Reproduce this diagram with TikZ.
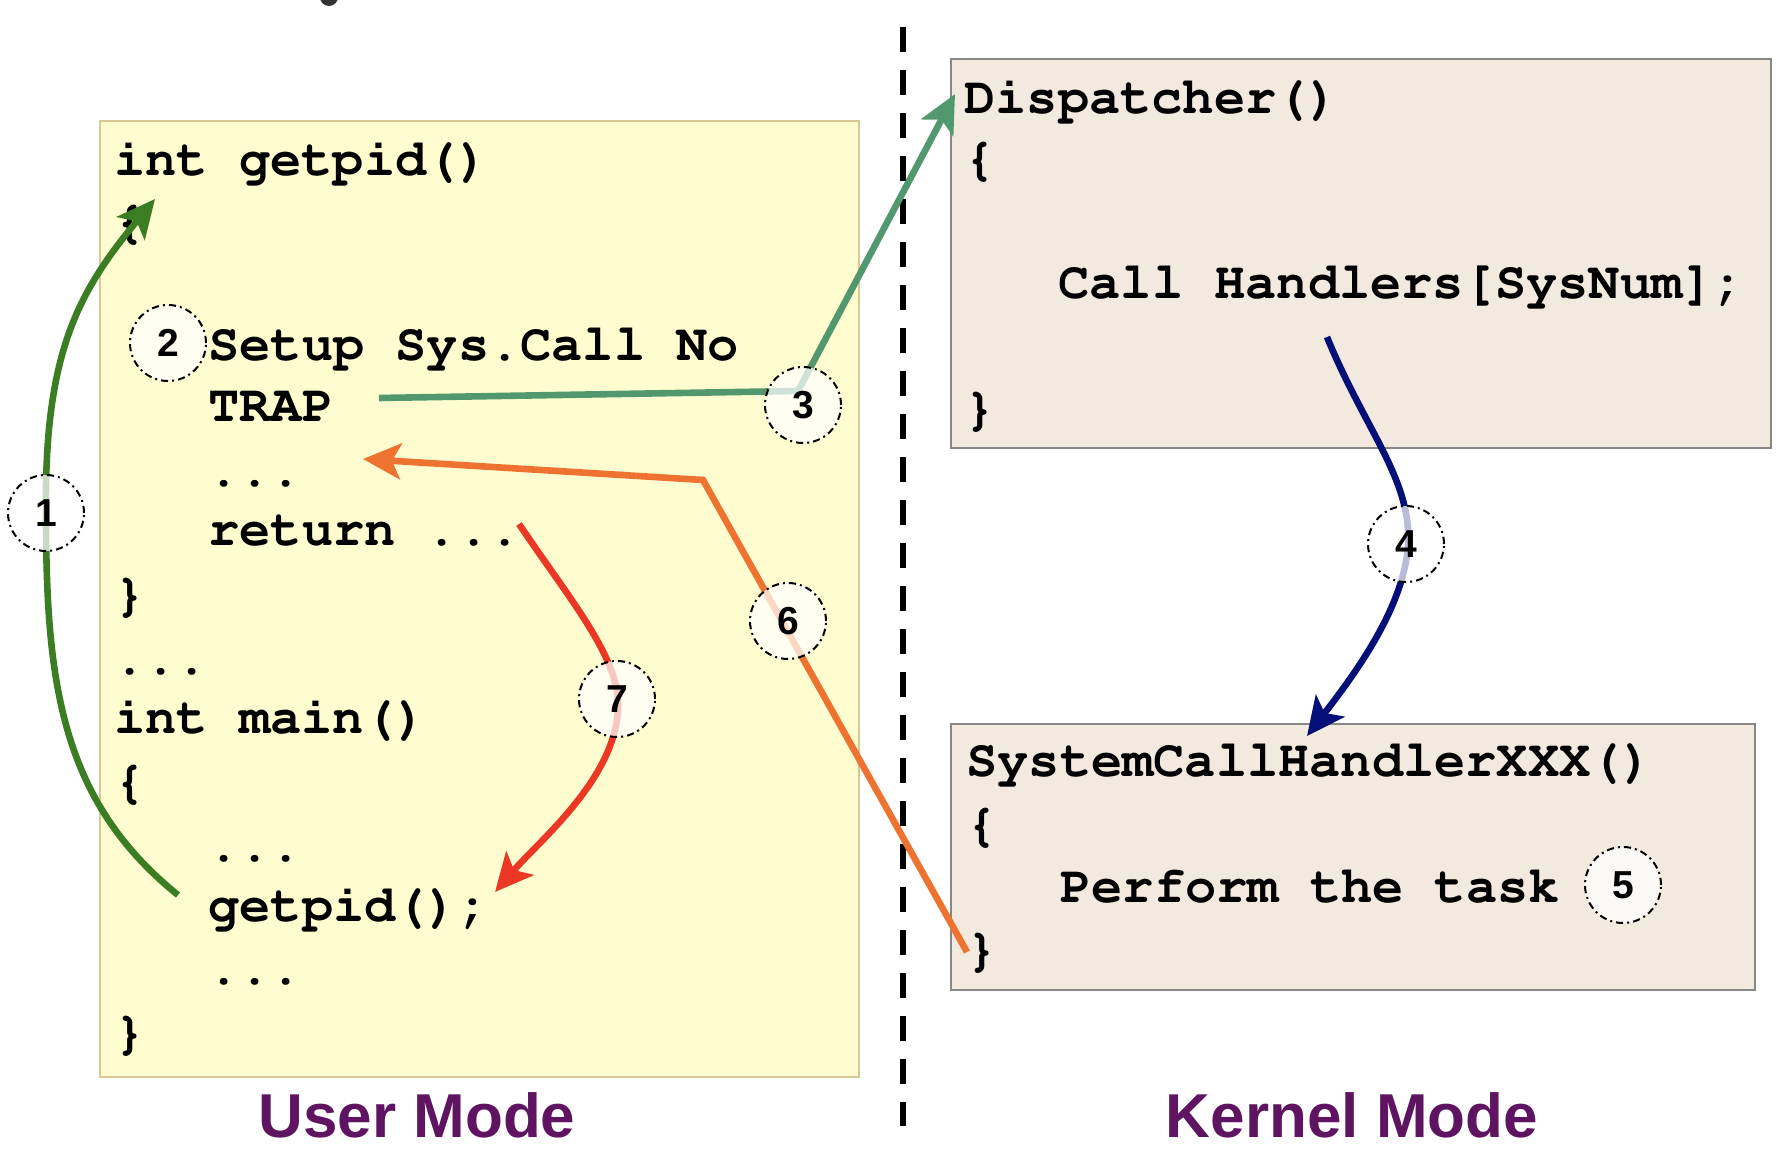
\documentclass[tikz,border=0pt]{standalone}
\usepackage[T1]{fontenc}
\usepackage{fontspec}
\setmainfont{Liberation Sans}
\newfontfamily\numfont{Liberation Sans}
\newcommand{\courb}{\fontencoding{T1}\fontfamily{pcr}\fontseries{b}\fontshape{n}}
\newcommand{\stepnum}[1]{{\numfont\bfseries\fontsize{19.5}{20}\selectfont #1}}
\usetikzlibrary{arrows.meta}
\definecolor{ufill}{RGB}{255,253,208}
\definecolor{uline}{RGB}{216,200,150}
\definecolor{kfill}{RGB}{242,234,222}
\definecolor{kline}{RGB}{135,135,135}
\definecolor{cgreen}{RGB}{58,125,34}
\definecolor{cteal}{RGB}{82,152,110}
\definecolor{cnavy}{RGB}{5,15,120}
\definecolor{corange}{RGB}{238,115,48}
\definecolor{cred}{RGB}{235,55,35}
\definecolor{cpurple}{RGB}{94,20,96}
\begin{document}
\begin{tikzpicture}[x=0.5pt,y=-0.5pt,
  code/.style={anchor=base west, inner sep=0pt, font=\courb\fontsize{26}{30}\selectfont},
  num/.style={circle, draw=black, line width=1pt, dash pattern=on 3.6pt off 2pt on 1pt off 2pt,
    fill=white, fill opacity=0.72, text opacity=1, minimum size=38pt, inner sep=0pt},
  mode/.style={anchor=base, inner sep=0pt, text=cpurple, font=\numfont\bfseries\fontsize{31}{31}\selectfont},
  arr/.style={line width=3.3pt, -{Stealth[length=19pt,width=18pt,inset=4.5pt]}},
  userbox/.style={draw=uline, fill=ufill, line width=1pt, anchor=north west, inner sep=0pt},
  kbox/.style={draw=kline, fill=kfill, line width=1pt, anchor=north west, inner sep=0pt}]
\useasboundingbox (0,0) rectangle (1788,1156);
\fill[black!80] (329,-3) circle [radius=9];
% boxes
\node[userbox, minimum width=379.5pt, minimum height=478pt] (ubox) at (99,120) {};
\node[kbox, minimum width=410pt, minimum height=194.5pt] (dbox) at (950,58) {};
\node[kbox, minimum width=402pt, minimum height=133pt] (hbox) at (950,723) {};
% divider
\coordinate (divtop) at (903,27);
\coordinate (divbot) at (903,1126);
\draw[line width=2.6pt, dash pattern=on 12.5pt off 9pt] (divtop) -- (divbot);
% user code
\node[code] (u1) at (114,176) {int getpid()};
\node[code] (u2) at (114,237) {\{};
\node[code] (u3) at (208,360) {Setup Sys.Call No};
\node[code] (u4) at (208,421) {TRAP};
\node[code] (u5) at (208,486) {...};
\node[code] (u6) at (208,545) {return ...};
\node[code] (u7) at (114,610) {\}};
\node[code] (u8) at (114,674) {...};
\node[code] (u9) at (114,733) {int main()};
\node[code] (u10) at (114,797) {\{};
\node[code] (u11) at (208,861) {...};
\node[code] (u12) at (208,921) {getpid();};
\node[code] (u13) at (208,984) {...};
\node[code] (u14) at (114,1048) {\}};
% kernel code
\node[code] (d1) at (964,113) {Dispatcher()};
\node[code] (d2) at (964,174) {\{};
\node[code] (d3) at (1058,298) {Call Handlers[SysNum];};
\node[code] (d4) at (964,424) {\}};
\node[code] (h1) at (966,776) {SystemCallHandlerXXX()};
\node[code] (h2) at (966,840) {\{};
\node[code] (h3) at (1060,902) {Perform the task};
\node[code] (h4) at (966,965) {\}};
% connector ends
\coordinate (a1s) at (178,895);
\coordinate (a1e) at (155,199);
\coordinate (a2s) at (379,398);
\coordinate (a2m) at (798,391);
\coordinate (a2e) at (955,94);
\coordinate (a3s) at (1327,337);
\coordinate (a3e) at (1307,736);
\coordinate (a4s) at (967,952);
\coordinate (a4m) at (703,480);
\coordinate (a4e) at (363,459);
\coordinate (a5s) at (519,524);
\coordinate (a5e) at (495,892);
% arrows
\draw[arr, draw=cgreen] (a1s) .. controls (60,800) and (46,680) .. (46,513)
   .. controls (44,350) and (80,290) .. (a1e);
\draw[arr, draw=cteal] (a2s) -- (a2m) -- (a2e);
\draw[arr, draw=cnavy] (a3s) .. controls (1365,430) and (1412,480) .. (1408,545)
   .. controls (1404,610) and (1350,680) .. (a3e);
\draw[arr, draw=corange] (a4s) -- (a4m) -- (a4e);
\draw[arr, draw=cred] (a5s) .. controls (570,600) and (622,660) .. (618,710)
   .. controls (614,780) and (540,840) .. (a5e);
% step numbers
\node[num] (n1) at (46,513) {\stepnum{1}};
\node[num] (n2) at (168,343) {\stepnum{2}};
\node[num] (n3) at (803,405) {\stepnum{3}};
\node[num] (n4) at (1406,544) {\stepnum{4}};
\node[num] (n5) at (1623,885) {\stepnum{5}};
\node[num] (n6) at (788,621) {\stepnum{6}};
\node[num] (n7) at (617,699) {\stepnum{7}};
% mode labels
\node[mode] (um) at (417,1137) {User Mode};
\node[mode] (km) at (1352,1137) {Kernel Mode};
\end{tikzpicture}
\end{document}
